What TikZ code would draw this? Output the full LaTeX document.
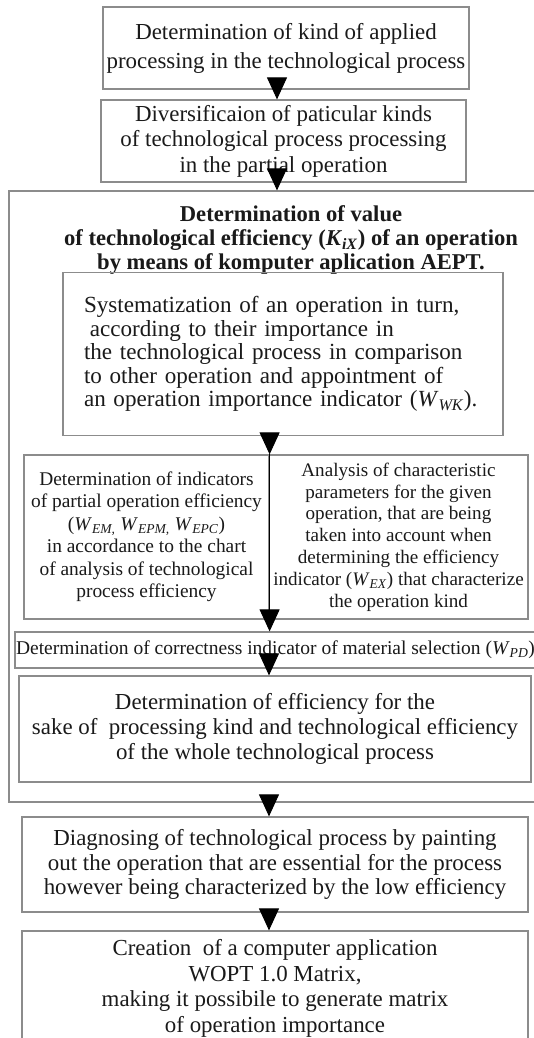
\documentclass[tikz,border=0pt]{standalone}
\usepackage{fontspec}
\setmainfont{Liberation Serif}
\usetikzlibrary{arrows.meta,calc}
\definecolor{bordergray}{HTML}{8C8C8C}
\definecolor{txt}{HTML}{1A1A1A}
\newcommand\idx[2]{\textit{#1}\textsubscript{\textit{#2}}}
\begin{document}
\begin{tikzpicture}[x=1pt,y=-1pt,
  box/.style={draw=bordergray, line width=1.2pt, inner sep=0pt, text=txt, align=center},
  arr/.style={draw=black, line width=1pt, -{Triangle[length=22pt,width=20pt]}},
]
\clip (0,0) rectangle (534,1038);
\fill[white] (0,0) rectangle (534,1038);

% outer frame
\node[box, minimum width=536pt, minimum height=611pt] (outer) at (277,496.5) {};

\node[box, minimum width=366pt, minimum height=82pt,
  font=\fontsize{22.9}{29}\selectfont] (box1) at (286,48)
  {Determination of kind of applied\\processing in the technological process};

\node[box, minimum width=365pt, minimum height=82pt,
  font=\fontsize{22.9}{25.5}\selectfont] (box2) at (283.5,141)
  {Diversificaion of paticular kinds\\of technological process processing\\in the partial operation};

\node[text=txt, align=center, inner sep=0pt,
  font=\fontsize{22.6}{24}\selectfont\bfseries] (title) at (291,240)
  {Determination of value\\of technological efficiency (\idx{K}{iX}) of an operation\\by means of komputer aplication AEPT.};

\node[box, minimum width=440pt, minimum height=163pt, text width=398pt, align=left,
  font=\fontsize{23.1}{23.5}\selectfont] (sys) at (283,354)
  {Systematization of an operation in turn,\\\hspace*{0.25em}according to their importance in\\the technological process in comparison\\to other operation and appointment of\\an operation importance indicator (\idx{W}{WK}).};

\node[box, minimum width=245pt, minimum height=164pt,
  font=\fontsize{19.4}{22.5}\selectfont] (left) at (146.5,537)
  {Determination of indicators\\of partial operation efficiency\\(\idx{W}{EM,} \idx{W}{EPM,} \idx{W}{EPC})\\in accordance to the chart\\of analysis of technological\\process efficiency};

\node[box, minimum width=259pt, minimum height=164pt,
  font=\fontsize{19.1}{21.8}\selectfont] (right) at (398.5,537)
  {Analysis of characteristic\\parameters for the given\\operation, that are being\\taken into account when\\determining the efficiency\\indicator (\idx{W}{EX}) that characterize\\the operation kind};

\node[box, minimum width=521pt, minimum height=36pt,
  font=\fontsize{19.5}{21}\selectfont] (corr) at (275.5,650)
  {Determination of correctness indicator of material selection (\idx{W}{PD})};

\node[box, minimum width=512pt, minimum height=106pt,
  font=\fontsize{22.9}{25}\selectfont] (eff) at (275,729)
  {Determination of efficiency for the\\sake of\ \ processing kind and technological efficiency\\of the whole technological process};

\node[box, minimum width=506pt, minimum height=95pt,
  font=\fontsize{22.9}{24.5}\selectfont] (diag) at (275,864.5)
  {Diagnosing of technological process by painting\\out the operation that are essential for the process\\however being characterized by the low efficiency};

\node[box, minimum width=506pt, minimum height=115pt,
  font=\fontsize{22.9}{25.5}\selectfont] (creat) at (275,988.5)
  {Creation\ \ of a computer application\\WOPT 1.0 Matrix,\\making it possibile to generate matrix\\of operation importance};

% arrow axes
\coordinate (ax1) at (277,0);
\coordinate (ax2) at (269,0);

\draw[arr] (box1.south -| ax1) -- (box2.north -| ax1);
\draw[arr] (box2.south -| ax1) -- (outer.north -| ax1);
\draw[arr] (sys.south -| left.north east) -- (left.north east);
\draw[arr] (left.north east) -- (corr.north -| left.north east);
\draw[arr] (corr.south -| ax2) -- (eff.north -| ax2);
\draw[arr] (outer.south -| ax2) -- (diag.north -| ax2);
\draw[arr] (diag.south -| ax2) -- (creat.north -| ax2);
\end{tikzpicture}
\end{document}
